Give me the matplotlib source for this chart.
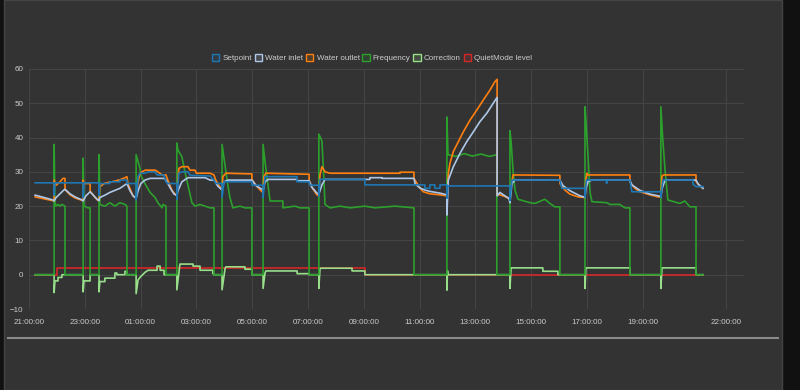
"""
Heat pump log, one day: setpoint, water temps, compressor frequency,
correction and quiet mode level on a dark panel.
"""

import matplotlib
matplotlib.use("Agg")
import matplotlib.pyplot as plt
from matplotlib.lines import Line2D
from matplotlib.patches import Patch, Rectangle


# =========================================================
# DATA (hours since 21:00)
# =========================================================

setpoint_t = [0.22, 0.90, 0.90, 0.93, 1.94, 1.94, 1.97, 2.51, 2.51, 2.54, 2.90, 2.90, 3.26, 3.26,
              3.51, 3.51, 3.84, 3.84, 3.91, 3.98, 4.16, 4.27, 4.52, 4.59, 4.84, 4.91, 4.98, 5.30,
              5.30, 5.37, 5.48, 5.70, 5.77, 6.49, 6.63, 6.70, 6.92, 6.92, 6.99, 7.99, 7.99, 8.39,
              8.39, 8.46, 9.61, 9.61, 10.04, 10.07, 10.39, 10.39, 10.43, 12.04, 12.04, 14.19, 14.19,
              14.37, 14.37, 14.55, 14.55, 14.73, 14.73, 14.98, 14.98, 15.02, 17.24, 17.24, 17.31,
              19.03, 19.10, 19.93, 19.93, 19.98, 20.70, 20.70, 20.75, 21.54, 21.61, 22.65, 22.65,
              22.72, 23.80, 23.80, 23.91, 24.16]
setpoint_v = [26.8, 26.8, 23.2, 26.8, 26.8, 22.5, 26.8, 26.8, 23.1, 26.6, 26.6, 27.1, 27.1, 27.6,
              27.6, 26.6, 26.6, 21.8, 28.6, 29.6, 29.6, 30.0, 30.0, 29.1, 29.1, 27.1, 26.6, 26.6,
              22.0, 29.6, 30.0, 30.0, 29.0, 28.8, 27.6, 26.6, 26.6, 22.5, 27.1, 27.1, 26.1, 26.1,
              22.5, 28.6, 28.6, 27.1, 27.1, 26.1, 26.1, 22.9, 27.8, 27.8, 26.2, 26.2, 25.2,
              25.2, 26.2, 26.2, 25.2, 25.2, 26.2, 26.2, 22.3, 25.9, 25.9, 21.6, 27.6,
              27.6, 25.2, 25.2, 22.6, 27.6, 27.6, 26.6, 27.6, 27.6, 24.2, 24.2, 22.6,
              27.6, 27.6, 26.4, 25.7, 25.7]

inlet_t = [0.22, 0.50, 0.86, 0.90, 0.97, 1.11, 1.25, 1.29, 1.47, 1.65, 1.90, 1.94, 2.04, 2.19,
           2.26, 2.37, 2.47, 2.51, 2.54, 2.72, 2.90, 3.26, 3.44, 3.51, 3.62, 3.73, 3.84, 3.91,
           4.01, 4.16, 4.34, 4.84, 4.91, 5.05, 5.20, 5.30, 5.34, 5.48, 5.70, 6.31, 6.49, 6.63,
           6.77, 6.92, 6.99, 7.13, 7.99, 8.14, 8.35, 8.39, 8.46, 8.57, 9.61, 9.61, 10.04, 10.14,
           10.32, 10.39, 10.50, 10.61, 12.22, 12.22, 12.65, 12.65, 13.80, 13.84, 14.01, 14.19,
           14.37, 14.73, 14.98, 14.98, 15.03, 15.21, 15.45, 15.69, 15.93, 16.16, 16.41, 16.64,
           16.78, 16.78, 16.88, 17.06, 17.20, 17.24, 17.31, 17.42, 19.03, 19.14, 19.39, 19.75,
           19.93, 19.96, 20.04, 20.18, 21.54, 21.61, 21.90, 22.26, 22.62, 22.65, 22.69, 22.80,
           23.91, 23.98, 24.16]
inlet_v = [23.2, 22.6, 21.8, 21.5, 22.5, 23.6, 24.7, 24.9, 23.6, 22.7, 21.8, 21.5, 23.0, 24.2,
           23.6, 22.6, 21.8, 21.6, 22.5, 23.2, 24.0, 25.2, 26.2, 26.6, 24.5, 23.0, 22.3, 24.5,
           26.6, 27.6, 28.1, 28.1, 27.6, 25.5, 23.5, 23.2, 24.5, 27.1, 28.3, 28.3, 27.6, 27.6,
           25.8, 24.7, 27.1, 27.6, 27.6, 26.0, 24.9, 24.5, 27.1, 27.8, 27.8, 27.4, 27.4, 25.5,
           23.8, 23.5, 26.2, 27.8, 27.8, 28.3, 28.3, 28.1, 28.1, 26.5, 25.3, 24.7,
           24.3, 23.8, 23.3, 17.4, 27.6, 31.5, 35.4, 38.8, 41.7, 44.6, 47.1, 50.0,
           51.7, 23.0, 24.0, 23.0, 22.3, 21.0, 26.6, 27.6, 27.6, 26.0, 24.5, 23.0,
           22.6, 25.0, 27.2, 27.6, 27.6, 26.2, 24.6, 23.5, 22.9, 22.6, 25.0, 27.6,
           27.6, 26.5, 25.2]

outlet_t = [0.22, 0.50, 0.86, 0.90, 0.90, 0.97, 1.11, 1.22, 1.29, 1.29, 1.47, 1.65, 1.90, 1.94,
            1.94, 1.97, 2.19, 2.19, 2.37, 2.47, 2.51, 2.54, 2.72, 3.08, 3.26, 3.44, 3.51, 3.55,
            3.73, 3.84, 3.91, 3.98, 4.16, 4.52, 4.62, 4.77, 4.91, 4.98, 5.13, 5.27, 5.30, 5.37,
            5.48, 5.70, 5.77, 5.95, 6.00, 6.49, 6.63, 6.70, 6.85, 6.92, 6.95, 7.06, 7.99, 7.99,
            8.14, 8.35, 8.39, 8.42, 8.49, 10.04, 10.04, 10.14, 10.32, 10.39, 10.43, 10.50, 10.61,
            10.79, 13.30, 13.30, 13.80, 13.80, 13.98, 14.13, 14.37, 14.73, 14.98, 15.00, 15.03,
            15.09, 15.21, 15.39, 15.57, 15.81, 16.05, 16.28, 16.52, 16.70, 16.78, 16.78, 16.88,
            17.06, 17.20, 17.24, 17.28, 17.35, 19.03, 19.03, 19.21, 19.39, 19.68, 19.93, 19.96,
            20.00, 20.04, 21.54, 21.54, 21.72, 21.90, 22.26, 22.54, 22.65, 22.69, 22.75, 23.91,
            23.91, 24.05, 24.16]
outlet_v = [22.7, 22.2, 21.6, 21.6, 27.6, 26.1, 27.1, 28.1, 28.1, 24.9, 23.3, 22.4, 21.7, 21.7,
            27.6, 26.6, 26.6, 24.4, 22.5, 21.7, 21.7, 25.7, 26.7, 27.3, 27.7, 28.3, 28.6, 26.5,
            23.0, 22.3, 27.1, 29.6, 30.5, 30.5, 30.0, 29.1, 29.1, 27.5, 24.5, 23.2, 23.4, 31.0,
            31.5, 31.5, 30.5, 30.5, 29.6, 29.6, 29.1, 27.5, 25.5, 24.7, 28.6, 29.6, 29.4, 27.8,
            26.0, 24.2, 24.0, 28.6, 29.6, 29.3, 27.6, 25.5, 23.3, 23.0, 29.1, 31.5, 30.0,
            29.6, 29.6, 29.9, 29.9, 28.1, 25.7, 24.2, 23.6, 23.3, 23.0, 23.7, 29.6,
            32.5, 35.9, 38.8, 41.7, 45.1, 48.0, 50.9, 53.8, 56.3, 57.0, 23.4, 23.3,
            22.8, 22.2, 22.2, 25.7, 29.1, 29.0, 26.6, 24.7, 23.5, 22.7, 22.5, 27.5,
            29.6, 29.1, 29.1, 27.0, 25.2, 24.2, 23.3, 22.7, 22.7, 28.8, 29.1, 29.1,
            27.2, 25.8, 25.2]

freq_t = [0.22, 0.90, 0.90, 0.93, 0.97, 1.04, 1.11, 1.18, 1.29, 1.29, 1.94, 1.94, 1.97, 2.11,
          2.19, 2.19, 2.51, 2.51, 2.54, 2.72, 2.90, 3.08, 3.26, 3.44, 3.51, 3.51, 3.84, 3.84,
          3.91, 3.98, 4.01, 4.16, 4.34, 4.52, 4.62, 4.77, 4.80, 4.91, 4.91, 5.30, 5.30, 5.34,
          5.48, 5.59, 5.70, 5.84, 5.95, 6.13, 6.31, 6.49, 6.63, 6.63, 6.92, 6.92, 6.99, 7.13,
          7.20, 7.31, 7.56, 7.74, 7.99, 7.99, 8.39, 8.39, 8.46, 8.57, 8.64, 9.10, 9.10, 9.53,
          9.71, 10.04, 10.04, 10.39, 10.39, 10.50, 10.57, 10.61, 10.79, 11.15, 11.51, 12.04,
          12.40, 13.12, 13.80, 13.80, 14.98, 14.98, 15.02, 15.30, 15.60, 15.90, 16.20, 16.50,
          16.77, 16.77, 17.24, 17.24, 17.28, 17.35, 17.42, 17.53, 17.96, 18.14, 18.49, 18.67,
          18.85, 19.03, 19.03, 19.93, 19.93, 19.96, 20.04, 20.11, 20.18, 20.72, 20.82, 21.18,
          21.36, 21.54, 21.54, 22.65, 22.65, 22.72, 22.80, 22.90, 23.33, 23.51, 23.69, 23.91,
          23.91, 24.16]
freq_v = [0, 0, 38, 21, 20, 20.5, 20, 20.5, 20, 0, 0, 34, 20, 19.5,
          19.5, 0, 0, 35, 20.5, 20, 21, 20, 21, 20.5, 20, 0, 0, 35,
          33, 31, 29, 26.5, 24, 22.5, 21, 19.5, 20.5, 20, 0, 0, 38.4, 36.3,
          34.4, 30, 26, 21, 20, 20.5, 20, 19.5, 19.5, 0, 0, 38, 34, 26,
          22.5, 19.5, 20, 19.5, 19.5, 0, 0, 38, 33, 26, 21.5, 21.5, 19.5, 20,
          19.5, 19.5, 0, 0, 41, 39, 28, 20.5, 19.5, 20, 19.5, 20,
          19.5, 20, 19.5, 0, 0, 46, 35, 34.5, 35.3, 34.6, 35.2, 34.5,
          35, 0, 0, 42, 39, 30.5, 24.7, 22, 21, 20.8, 22, 20.8,
          19.8, 19.8, 0, 0, 49, 45.5, 34.4, 24, 21.3, 21, 20.5, 20.5,
          19.5, 19.5, 0, 0, 49, 39.3, 30.5, 21.8, 20.8, 21.5, 19.8, 19.8,
          0, 0]

corr_t = [0.22, 0.90, 0.90, 0.93, 1.04, 1.04, 1.18, 1.18, 1.94, 1.94, 1.97, 2.19, 2.19, 2.51,
          2.51, 2.54, 2.72, 2.72, 3.08, 3.08, 3.15, 3.15, 3.44, 3.44, 3.51, 3.51, 3.84, 3.84,
          3.91, 4.01, 4.16, 4.27, 4.59, 4.59, 4.70, 4.70, 4.84, 4.84, 5.30, 5.30, 5.41, 5.88,
          5.88, 6.13, 6.13, 6.59, 6.59, 6.63, 6.63, 6.92, 6.92, 7.03, 7.06, 7.74, 7.74, 7.99,
          7.99, 8.39, 8.39, 8.46, 8.49, 9.61, 9.61, 10.04, 10.04, 10.39, 10.39, 10.43, 11.58,
          11.58, 12.04, 12.04, 14.98, 14.98, 15.00, 15.02, 17.24, 17.24, 17.28, 18.42, 18.42,
          18.96, 18.96, 19.93, 19.93, 19.96, 21.54, 21.54, 22.65, 22.65, 22.69, 23.91, 23.91,
          24.16]
corr_v = [0, 0, -5.2, -1.8, -1.8, -0.8, -0.8, 0, 0, -5, -1.8, -1.8, 0, 0,
          -5, -2, -2, -1, -1, 0.5, 0.5, 0, 0, 1, 1, 0, 0, -5.5,
          -1.5, -0.5, 0.7, 1.3, 1.3, 2.5, 2.5, 1.3, 1.3, 0, 0, -4.4, 3.1, 3.1,
          2.5, 2.5, 1.3, 1.3, 0.3, 0.3, 0, 0, -4.4, 1.9, 2.3, 2.3, 1.6, 1.6,
          0, 0, -4, 0.5, 1.1, 1.1, 0.3, 0.3, 0, 0, -4, 1.9, 1.9,
          1.1, 1.1, 0, 0, -4.5, 1.2, 0, 0, -4, 2, 2, 1,
          1, 0, 0, -4, 2, 2, 0, 0, -4, 2, 2, 0,
          0]

quiet_t = [0.22, 1.00, 1.00, 12.06, 12.06, 24.16]
quiet_v = [0, 0, 2, 2, 0, 0]

SERIES = [
    ("Setpoint", "#1f77b4", setpoint_t, setpoint_v),
    ("Water inlet", "#aec7e8", inlet_t, inlet_v),
    ("Water outlet", "#ff7f0e", outlet_t, outlet_v),
    ("Frequency", "#2ca02c", freq_t, freq_v),
    ("Correction", "#98df8a", corr_t, corr_v),
    ("QuietMode level", "#d62728", quiet_t, quiet_v),
]

TICK_HOURS = [0, 2, 4, 6, 8, 10, 12, 14, 16, 18, 20, 22, 25]

BG = "#333333"
GRID = "#444444"
TEXT = "#cccccc"


def main() -> None:
    plt.rcParams["font.family"] = ["Liberation Sans", "DejaVu Sans"]

    fig = plt.figure(figsize=(8, 3.9), dpi=100, facecolor="#111111")

    # panel + bottom separator (behind the axes)
    fig.patches.append(Rectangle((4 / 800, 0), 778 / 800, 1, transform=fig.transFigure,
                                 facecolor=BG, edgecolor="#444444", lw=1, zorder=-5))
    fig.lines.append(Line2D([8 / 800, 778 / 800], [1 - 338 / 390] * 2, transform=fig.transFigure,
                            color="#8a8a8a", lw=1.5, zorder=-4))

    ax = fig.add_axes([29 / 800, 1 - 309 / 390, 715 / 800, 240 / 390])
    ax.set_facecolor(BG)

    # first dataset on top, like the original
    n = len(SERIES)
    for i, (name, color, t, v) in enumerate(SERIES):
        ax.plot(t, v, color=color, lw=1.2, zorder=10 + n - i, label=name)

    ax.set_xlim(0, 25.63)
    ax.set_ylim(-10, 60)
    ax.set_yticks(range(-10, 61, 10))
    ax.set_xticks(TICK_HOURS)
    ax.set_xticklabels([f"{(21 + h) % 24:02d}:00:00" for h in TICK_HOURS])

    ax.grid(True, color=GRID, lw=0.8)
    ax.set_axisbelow(True)
    for s in ax.spines.values():
        s.set_visible(False)
    ax.tick_params(colors=TEXT, labelsize=5.8, length=0)
    ax.tick_params(axis="y", pad=4)
    ax.tick_params(axis="x", pad=7)

    handles = [Patch(facecolor=(*matplotlib.colors.to_rgb(c), 0.15), edgecolor=c, lw=1, label=name)
               for name, c, _, _ in SERIES]
    fig.legend(handles=handles, loc="center", bbox_to_anchor=(372 / 800, 1 - 58 / 390), ncol=6,
               frameon=False, fontsize=5.8, labelcolor=TEXT, handlelength=0.9, handleheight=0.9,
               handletextpad=0.4, columnspacing=0.35, borderpad=0)

    fig.savefig("out.png", dpi=100, facecolor=fig.get_facecolor())
    plt.close(fig)


if __name__ == "__main__":
    main()
